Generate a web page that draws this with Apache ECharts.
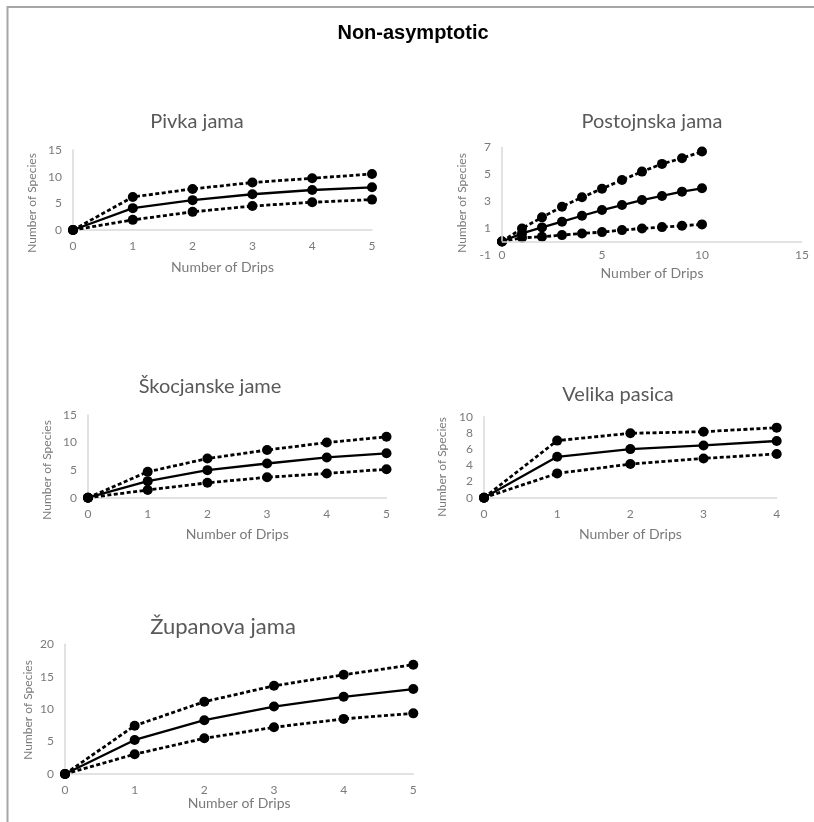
<!DOCTYPE html>
<html>
<head>
<meta charset="utf-8">
<script src="https://cdn.jsdelivr.net/npm/echarts@6/dist/echarts.min.js"></script>
<style>
html,body{margin:0;padding:0;background:#fff;}
#chart{width:814px;height:822px;}
</style>
</head>
<body>
<div id="chart"></div>
<script>
// ---- data ----
const mainTitle = 'Non-asymptotic';
const panelTitles = ['Pivka jama', 'Postojnska jama', 'Škocjanske jame', 'Velika pasica', 'Županova jama'];
const xName = 'Number of Drips';
const yName = 'Number of Species';

const pivkaX = [0, 1, 2, 3, 4, 5];
const pivkaMean = [0, 4.1, 5.6, 6.7, 7.5, 8.0];
const pivkaUpper = [0, 6.2, 7.7, 8.9, 9.7, 10.5];
const pivkaLower = [0, 1.9, 3.4, 4.5, 5.2, 5.7];

const postX = [0, 1, 2, 3, 4, 5, 6, 7, 8, 9, 10];
const postMean = [0, 0.6, 1.04, 1.46, 1.9, 2.32, 2.69, 3.06, 3.36, 3.68, 3.93];
const postUpper = [0, 0.96, 1.78, 2.57, 3.26, 3.9, 4.54, 5.16, 5.73, 6.15, 6.64];
const postLower = [0, 0.27, 0.35, 0.47, 0.59, 0.69, 0.84, 0.96, 1.06, 1.16, 1.26];

const skocX = [0, 1, 2, 3, 4, 5];
const skocMean = [0, 3.0, 5.0, 6.2, 7.3, 8.05];
const skocUpper = [0, 4.7, 7.1, 8.65, 10.0, 11.05];
const skocLower = [0, 1.4, 2.7, 3.7, 4.4, 5.15];

const velikaX = [0, 1, 2, 3, 4];
const velikaMean = [0, 5.05, 6.0, 6.45, 7.0];
const velikaUpper = [0, 7.05, 7.95, 8.15, 8.65];
const velikaLower = [0, 3.0, 4.15, 4.85, 5.4];

const zupanX = [0, 1, 2, 3, 4, 5];
const zupanMean = [0, 5.25, 8.3, 10.4, 11.9, 13.1];
const zupanUpper = [0, 7.45, 11.15, 13.6, 15.3, 16.85];
const zupanLower = [0, 3.05, 5.5, 7.2, 8.5, 9.35];

// axis ranges [xmin, xmax, xint, ymin, ymax, yint]
const pivkaAxis = [0, 5, 1, 0, 15, 5];
const postAxis = [0, 15, 5, -1, 7, 2];
const skocAxis = [0, 5, 1, 0, 15, 5];
const velikaAxis = [0, 4, 1, 0, 10, 2];
const zupanAxis = [0, 5, 1, 0, 20, 5];

// ---- layout / style ----
const grids = [
  {left: 73, top: 150, width: 299, height: 80},
  {left: 502, top: 146.7, width: 300, height: 108.3},
  {left: 88, top: 415, width: 298.5, height: 82.7},
  {left: 484, top: 416.7, width: 292.7, height: 81},
  {left: 65, top: 644.3, width: 348.3, height: 129.7}
];
const titlePos = [[197, 122, 20], [652, 122, 20], [210, 387, 20], [618, 395, 20], [223, 627, 22]];
const yNamePos = [[32, 203], [462, 203], [47, 470], [442, 467], [28, 710]];
const xNameGap = [30, 11, 30, 30, 22];

const FONT = 'Lato, "Open Sans", sans-serif';
const axisGray = '#d9d9d9';
const labelGray = '#7a7a7a';
const titleGray = '#595959';

const panels = [
  {x: pivkaX, m: pivkaMean, u: pivkaUpper, l: pivkaLower, a: pivkaAxis},
  {x: postX, m: postMean, u: postUpper, l: postLower, a: postAxis},
  {x: skocX, m: skocMean, u: skocUpper, l: skocLower, a: skocAxis},
  {x: velikaX, m: velikaMean, u: velikaUpper, l: velikaLower, a: velikaAxis},
  {x: zupanX, m: zupanMean, u: zupanUpper, l: zupanLower, a: zupanAxis}
];

const xAxes = [], yAxes = [], series = [], graphics = [];
panels.forEach((p, i) => {
  const isPost = i === 1;
  xAxes.push({
    type: 'value', gridIndex: i, min: p.a[0], max: p.a[1], interval: p.a[2],
    name: xName, nameLocation: 'middle', nameGap: xNameGap[i],
    nameTextStyle: {color: labelGray, fontSize: 14, fontFamily: FONT},
    axisLine: {show: !isPost, onZero: false, lineStyle: {color: axisGray, width: 1.5}},
    axisTick: {show: false},
    splitLine: {show: false},
    axisLabel: {color: labelGray, fontSize: 12, fontFamily: FONT, margin: isPost ? -6 : 10}
  });
  yAxes.push({
    type: 'value', gridIndex: i, min: p.a[3], max: p.a[4], interval: p.a[5],
    axisLine: {show: !isPost, lineStyle: {color: axisGray, width: 1.5}},
    axisTick: {show: false},
    splitLine: {show: false},
    axisLabel: {color: labelGray, fontSize: 12, fontFamily: FONT, margin: 11}
  });
  const mk = (arr, dashed, extra) => Object.assign({
    type: 'line', xAxisIndex: i, yAxisIndex: i,
    data: p.x.map((xv, k) => [xv, arr[k]]),
    symbol: 'circle', symbolSize: 10,
    itemStyle: {color: '#000'},
    lineStyle: {color: '#000', width: dashed ? 2.8 : 2.3, type: dashed ? [4, 2.5] : 'solid'},
    silent: true, animation: false, z: 3
  }, extra || {});
  let extra = null;
  if (isPost) {
    extra = {
      markLine: {
        silent: true, symbol: 'none', animation: false,
        label: {show: false},
        lineStyle: {color: axisGray, width: 1.5, type: 'solid'},
        data: [
          [{coord: [p.a[0], 0]}, {coord: [p.a[1], 0]}],
          [{coord: [0, 0]}, {coord: [0, p.a[4]]}]
        ]
      }
    };
  }
  series.push(mk(p.l, true, extra));
  series.push(mk(p.m, false));
  series.push(mk(p.u, true));

  graphics.push({
    type: 'text', x: titlePos[i][0], y: titlePos[i][1],
    style: {text: panelTitles[i], fill: titleGray, font: titlePos[i][2] + 'px ' + FONT, textAlign: 'center', textVerticalAlign: 'middle'}
  });
  graphics.push({
    type: 'text', x: yNamePos[i][0], y: yNamePos[i][1], rotation: Math.PI / 2,
    style: {text: yName, fill: labelGray, font: '12px ' + FONT, textAlign: 'center', textVerticalAlign: 'middle'}
  });
});

graphics.push({
  type: 'text', x: 413, y: 33,
  style: {text: mainTitle, fill: '#000', font: 'bold 20px "Liberation Sans", Arial, sans-serif', textAlign: 'center', textVerticalAlign: 'middle'}
});
graphics.push({type: 'line', shape: {x1: 7, y1: 7, x2: 814, y2: 7}, style: {stroke: '#a6a6a6', lineWidth: 2}});
graphics.push({type: 'line', shape: {x1: 7.5, y1: 6, x2: 7.5, y2: 822}, style: {stroke: '#a6a6a6', lineWidth: 2}});

const chart = echarts.init(document.getElementById('chart'), null, {renderer: 'canvas'});
chart.setOption({
  animation: false,
  backgroundColor: '#fff',
  grid: grids,
  xAxis: xAxes,
  yAxis: yAxes,
  series: series,
  graphic: graphics
});
</script>
</body>
</html>
